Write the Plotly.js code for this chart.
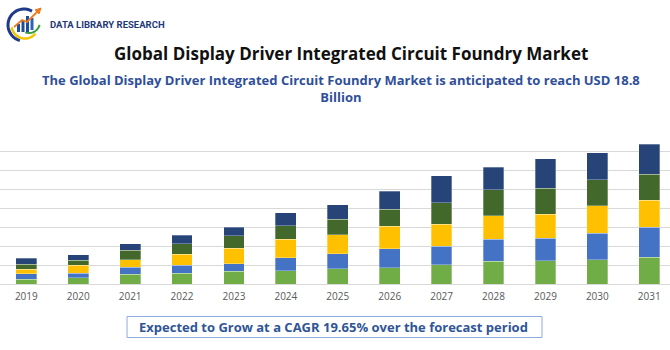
<!DOCTYPE html>
<html>
<head>
<meta charset="utf-8">
<script src="https://cdn.plot.ly/plotly-3.0.1.min.js"></script>
<style>html,body{margin:0;padding:0;background:#fff;}#chart{width:670px;height:350px;}</style>
</head>
<body>
<div id="chart"></div>
<script>
// ---- data (in gridline units) ----
const years = ["2019","2020","2021","2022","2023","2024","2025","2026","2027","2028","2029","2030","2031"];
const seg1 = [0.24,0.32,0.51,0.58,0.66,0.70,0.81,0.87,1.02,1.19,1.23,1.29,1.40]; // light green
const seg2 = [0.30,0.26,0.37,0.40,0.42,0.68,0.79,0.98,0.96,1.18,1.19,1.39,1.60]; // blue
const seg3 = [0.23,0.40,0.40,0.60,0.81,0.98,1.00,1.21,1.16,1.23,1.26,1.44,1.42]; // yellow
const seg4 = [0.28,0.28,0.49,0.54,0.66,0.72,0.81,0.89,1.16,1.37,1.37,1.38,1.38]; // dark green
const seg5 = [0.32,0.28,0.35,0.46,0.44,0.67,0.77,0.95,1.42,1.19,1.56,1.42,1.58]; // navy
const segNames = ["Segment 1","Segment 2","Segment 3","Segment 4","Segment 5"];
const segColors = ["#70ad47","#4472c4","#ffc000","#43682b","#264478"];

const titleText = "Global Display Driver Integrated Circuit Foundry Market";
const subLine1 = "The Global Display Driver Integrated Circuit Foundry Market is anticipated to reach USD 18.8";
const subLine2 = "Billion";
const cagrText = "Expected to Grow at a CAGR 19.65% over the forecast period";
const brandText = "DATA LIBRARY RESEARCH";

// ---- layout helpers (pixel -> paper) ----
const W = 670, H = 350, T = 132, B = 284;
const px = x => x / W;
const py = y => (B - y) / (B - T);
function arcPath(cx, cy, r, a0, a1, n) {
  let s = "";
  for (let i = 0; i <= n; i++) {
    const a = (a0 + (a1 - a0) * i / n) * Math.PI / 180;
    const x = cx + r * Math.cos(a), y = cy - r * Math.sin(a);
    s += (i === 0 ? "M " : " L ") + px(x) + "," + py(y);
  }
  return s;
}
function rectP(x0, y0, x1, y1, color) {
  return {type:"rect", xref:"paper", yref:"paper", x0:px(x0), x1:px(x1), y0:py(y1), y1:py(y0),
          fillcolor:color, line:{width:0}, layer:"above"};
}

const traces = [seg1, seg2, seg3, seg4, seg5].map((v, i) => ({
  type: "bar", x: years, y: v, name: segNames[i],
  marker: {color: segColors[i], line: {color: "rgba(255,255,255,0.6)", width: 0.5}},
  width: 0.4, hoverinfo: "x+y+name"
}));

const shapes = [
  // logo arcs
  {type:"path", xref:"paper", yref:"paper", path: arcPath(24, 25, 16, 60, 255, 30), line:{color:"#1f3a8a", width:3}},
  {type:"path", xref:"paper", yref:"paper", path: arcPath(25, 25, 13.5, 190, 320, 30), line:{color:"#f2c500", width:2.5}},
  {type:"path", xref:"paper", yref:"paper", path: arcPath(29, 22, 11, 250, 345, 20), line:{color:"#3aa03a", width:2}},
  rectP(17, 24, 20, 32, "#1f4e9a"),
  rectP(21.5, 20, 24.5, 32, "#1f4e9a"),
  rectP(26, 16, 29, 32, "#1f4e9a"),
  rectP(30.5, 18, 33.5, 30, "#2a64b8"),
  {type:"path", xref:"paper", yref:"paper",
   path: "M "+px(14)+","+py(27)+" L "+px(22)+","+py(20)+" L "+px(27)+","+py(22)+" L "+px(38)+","+py(11),
   line:{color:"#f07c1e", width:1.8}},
  {type:"path", xref:"paper", yref:"paper",
   path: "M "+px(41)+","+py(8)+" L "+px(35)+","+py(10)+" L "+px(39)+","+py(14)+" Z",
   fillcolor:"#f07c1e", line:{color:"#f07c1e", width:1}},
  // CAGR box
  {type:"rect", xref:"paper", yref:"paper", x0:px(127), x1:px(542), y0:py(337.5), y1:py(316.5),
   fillcolor:"#ffffff", line:{color:"#8faadc", width:1}}
];

const annotations = [
  {text:"<b>"+brandText+"</b>", xref:"paper", yref:"paper", x:px(48), y:py(24.5), xanchor:"left", yanchor:"middle",
   showarrow:false, font:{family:"Roboto, sans-serif", size:9.5, color:"#1f3a7a"}},
  {text:"<b>"+titleText+"</b>", xref:"paper", yref:"paper", x:px(351), y:py(53), xanchor:"center", yanchor:"middle",
   showarrow:false, font:{family:"Open Sans, sans-serif", size:17, color:"#111111"}},
  {text:"<b>"+subLine1+"<br>"+subLine2+"</b>", xref:"paper", yref:"paper", x:px(341), y:py(88), xanchor:"center", yanchor:"middle",
   align:"center", showarrow:false, font:{family:"Open Sans, sans-serif", size:13, color:"#2f4f9a"}},
  {text:"<b>"+cagrText+"</b>", xref:"paper", yref:"paper", x:px(333), y:py(327), xanchor:"center", yanchor:"middle",
   showarrow:false, font:{family:"Open Sans, sans-serif", size:13, color:"#2f5597"}}
];

const layout = {
  width: W, height: H,
  margin: {l:0, r:0, t:T, b:H-B, pad:0},
  paper_bgcolor: "#ffffff", plot_bgcolor: "#ffffff",
  barmode: "stack", bargap: 0.6,
  showlegend: false,
  xaxis: {type:"category", range:[-0.507, 12.40], showgrid:false, zeroline:false, showline:false,
          ticks:"outside", ticklen:3, tickcolor:"rgba(0,0,0,0)",
          tickfont:{family:"Open Sans, sans-serif", size:10, color:"#595959"}, fixedrange:true},
  yaxis: {range:[0, 8.02], dtick:1, showgrid:true, gridcolor:"#d9d9d9", gridwidth:1,
          zeroline:true, zerolinecolor:"#d9d9d9", zerolinewidth:1,
          showticklabels:false, ticks:"", fixedrange:true},
  shapes: shapes,
  annotations: annotations
};

Plotly.newPlot("chart", traces, layout, {displayModeBar:false, staticPlot:true});
</script>
</body>
</html>
